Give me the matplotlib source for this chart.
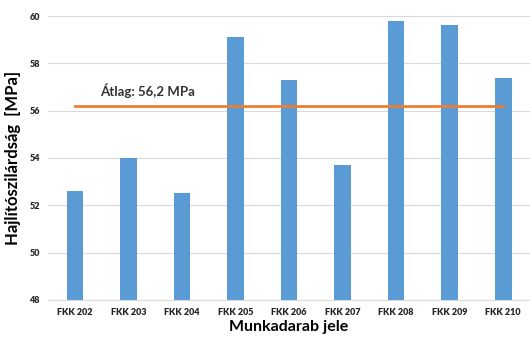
import matplotlib.pyplot as plt
import numpy as np

# Próbák és mért hajlítószilárdság értékek
probak = ['FKK 202', 'FKK 203', 'FKK 204', 'FKK 205', 'FKK 206',
          'FKK 207', 'FKK 208', 'FKK 209', 'FKK 210']
szilardsag = [52.6, 54.0, 52.5, 59.1, 57.3, 53.7, 59.8, 59.6, 57.4]
atlag = 56.2
y_ticks = [48, 50, 52, 54, 56, 58, 60]

plt.rcParams['font.family'] = ['Lato', 'DejaVu Sans']

fig = plt.figure(figsize=(5.3, 3.37), dpi=100)
ax = fig.add_axes([0.091, 0.110, 0.909, 0.8425])

x = np.arange(len(probak))
ax.bar(x, szilardsag, width=0.31, color='#5b9bd5', zorder=2)

# Átlag vonal az első és utolsó oszlop között
ax.plot([x[0], x[-1]], [atlag, atlag], color='#ed7d31', linewidth=2, zorder=3)
ax.text(x[0] + 0.47, atlag + 0.35, 'Átlag: 56,2 MPa', fontsize=9.5,
        fontweight='bold', color='#333333', va='bottom', ha='left')

ax.set_xlim(-0.5, len(probak) - 0.5)
ax.set_ylim(48, 60)
ax.set_yticks(y_ticks)
ax.set_xticks(x)
ax.set_xticklabels(probak)
ax.tick_params(axis='both', length=0, labelsize=6.5, colors='#262626')
for lab in ax.get_xticklabels() + ax.get_yticklabels():
    lab.set_fontweight('heavy')
ax.tick_params(axis='x', pad=6)
ax.tick_params(axis='y', pad=6)

ax.grid(axis='y', color='#d9d9d9', linewidth=0.8, zorder=0)
for s in ['top', 'right', 'left']:
    ax.spines[s].set_visible(False)
ax.spines['bottom'].set_color('#d9d9d9')

ax.set_xlabel('Munkadarab jele', fontsize=11.5, fontweight='bold', labelpad=2)
ax.set_ylabel('Hajlítószilárdság  [MPa]', fontsize=12, fontweight='bold', labelpad=6)

plt.savefig('out.png', dpi=100)
